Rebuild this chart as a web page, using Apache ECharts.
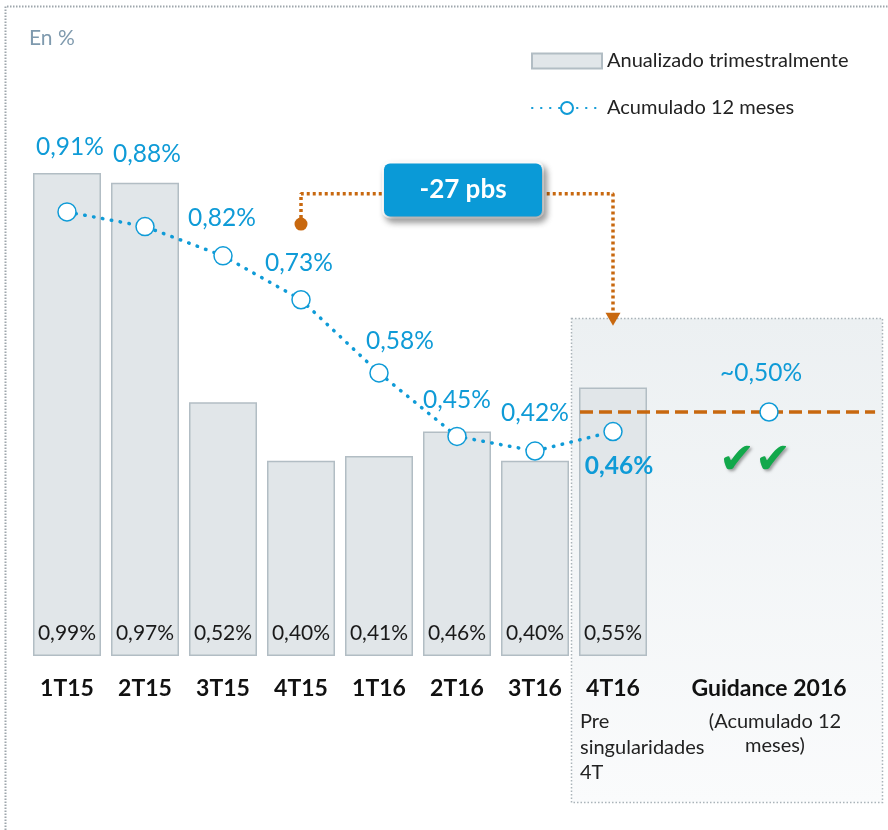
<!DOCTYPE html>
<html>
<head>
<meta charset="utf-8">
<script src="https://cdn.jsdelivr.net/npm/echarts@6/dist/echarts.min.js"></script>
<style>
  html, body { margin: 0; padding: 0; background: #fff; }
  #chart { width: 888px; height: 830px; }
</style>
</head>
<body>
<div id="chart"></div>
<script>
// Categories on the x axis (slot 8 is a spacer before the guidance, slot 10 is right margin)
const categories = ['1T15', '2T15', '3T15', '4T15', '1T16', '2T16', '3T16', '4T16', '', 'Guidance 2016', ''];
// Quarterly annualized cost of risk (%)
const quarterlyAnnualized = [0.99, 0.97, 0.52, 0.40, 0.41, 0.46, 0.40, 0.55];
// Trailing 12-month cost of risk (%)
const trailing12m = [0.91, 0.88, 0.82, 0.73, 0.58, 0.45, 0.42, 0.46];
// 2016 guidance (trailing 12 months, %)
const guidance2016 = 0.50;
// Sub captions under some categories
const subCaptionPre = ['Pre', 'singularidades', '4T'];
const subCaptionGuidance = ['(Acumulado 12', 'meses)'];

const BLUE = '#0f9bd7';
const ORANGE = '#c8680f';
const FONT = 'Lato, "Noto Sans", sans-serif';

const pct = v => v.toFixed(2).replace('.', ',') + '%';

// label offsets (label centre relative to marker centre)
const lineLabelOffsets = [[3, -65], [2, -72], [-1, -38], [-2, -37], [21, -32], [0, -36], [0, -38], [6, 35]];

const lineData = categories.map((c, i) => {
  if (i < trailing12m.length) {
    const item = {
      value: trailing12m[i],
      label: { offset: lineLabelOffsets[i] }
    };
    if (i === trailing12m.length - 1) item.label.fontWeight = 'bold';
    return item;
  }
  if (c === 'Guidance 2016') {
    return {
      value: guidance2016,
      label: { offset: [-8, -39], formatter: p => '~' + pct(p.value) }
    };
  }
  return '-';
});

const fromIdx = 3, toIdx = 7;
const deltaBps = Math.round((trailing12m[toIdx] - trailing12m[fromIdx]) * 100);

const chart = echarts.init(document.getElementById('chart'), null, { renderer: 'canvas' });

const option = {
  animation: false,
  textStyle: { fontFamily: FONT },
  title: {
    text: 'En %', left: 24, top: 23,
    textStyle: { fontSize: 21, color: '#7f9aae', fontWeight: 'normal', fontFamily: FONT }
  },
  legend: {
    orient: 'vertical', left: 531, top: 51, padding: 0,
    itemWidth: 70, itemHeight: 15, itemGap: 27,
    textStyle: { fontSize: 20, color: '#222', fontFamily: FONT },
    data: [
      { name: 'Anualizado trimestralmente', icon: 'rect' },
      { name: 'Acumulado 12 meses' }
    ]
  },
  grid: { left: 28, right: 2, top: 70.4, bottom: 174, containLabel: false },
  xAxis: [
    {
      type: 'category', data: categories, boundaryGap: true,
      axisLine: { show: false }, axisTick: { show: false },
      axisLabel: { interval: 0, margin: 21, fontSize: 23, fontWeight: 'bold', color: '#111', fontFamily: FONT }
    },
    { type: 'value', min: -0.5, max: categories.length - 0.5, show: false }
  ],
  yAxis: { type: 'value', min: 0, max: 1.2, show: false },
  graphic: [
    // outer dotted frame
    {
      type: 'polyline', z: -20, silent: true,
      shape: { points: [[5.5, 830], [5.5, 6.5], [888, 6.5]] },
      style: { stroke: '#9ea6ac', lineWidth: 2, lineDash: [1.5, 1.5], fill: null }
    },
    // highlighted panel behind 4T16 and guidance
    {
      type: 'rect', z: -10, silent: true,
      shape: { x: 571.5, y: 318.5, width: 311, height: 484 },
      style: {
        fill: new echarts.graphic.LinearGradient(0, 0, 0, 1, [
          { offset: 0, color: '#ecf0f2' },
          { offset: 1, color: '#fafbfc' }
        ]),
        stroke: '#aab3b9', lineWidth: 1.5, lineDash: [1.5, 2]
      }
    },
    {
      type: 'text', left: 580, top: 709, z: 5,
      style: { text: subCaptionPre.join('\n'), fontSize: 20, lineHeight: 25.5, fill: '#222', fontFamily: FONT }
    },
    {
      type: 'text', z: 5,
      style: {
        text: subCaptionGuidance.join('\n'), x: 775, y: 710, textAlign: 'center',
        fontSize: 20, lineHeight: 24, fill: '#222', fontFamily: FONT
      }
    },
    {
      type: 'text', z: 5,
      style: {
        text: '\u2714\u2714', x: 755, y: 462, textAlign: 'center', textVerticalAlign: 'middle',
        fontSize: 43, fill: '#12a84b', fontFamily: '"DejaVu Sans"',
        textShadowColor: 'rgba(0,0,0,0.35)', textShadowBlur: 3, textShadowOffsetX: 2, textShadowOffsetY: 2
      }
    }
  ],
  series: [
    {
      name: 'Anualizado trimestralmente', type: 'bar', z: 2,
      barWidth: 68,
      data: quarterlyAnnualized,
      itemStyle: { color: '#e1e6e9', borderColor: '#b2bdc4', borderWidth: 1.5 },
      label: {
        show: true, position: 'insideBottom', distance: 12,
        fontSize: 21, color: '#1a1a1a', fontFamily: FONT,
        formatter: p => pct(p.value)
      }
    },
    {
      // 2016 guidance level
      name: 'guidance', type: 'line', xAxisIndex: 1, z: 3, silent: true,
      symbol: 'none',
      data: [[6.577, guidance2016], [10.36, guidance2016]],
      lineStyle: { color: ORANGE, width: 3.5, type: [13, 6] }
    },
    {
      // bracket from 4T15 to 4T16
      name: 'bracket', type: 'line', xAxisIndex: 1, z: 4, silent: true,
      data: [
        { value: [fromIdx, 0.885], symbol: 'circle', symbolSize: 13 },
        { value: [fromIdx, 0.947], symbol: 'none' },
        { value: [toIdx, 0.947], symbol: 'none' },
        { value: [toIdx, 0.69], symbol: 'triangle', symbolSize: [15, 13], symbolRotate: 180 }
      ],
      showAllSymbol: true,
      itemStyle: { color: ORANGE, borderWidth: 0 },
      lineStyle: { color: ORANGE, width: 3.5, type: [3, 3] }
    },
    {
      name: 'delta', type: 'scatter', xAxisIndex: 1, z: 6, silent: true,
      symbol: 'circle', symbolSize: 2,
      itemStyle: { color: 'transparent', opacity: 1 },
      data: [[5.077, 0.955]],
      label: {
        show: true, position: 'inside', formatter: deltaBps + ' pbs',
        width: 158, height: 53, align: 'center', verticalAlign: 'middle',
        backgroundColor: '#0a9ad7', borderColor: '#ffffff', borderWidth: 2, borderRadius: 6,
        shadowBlur: 6, shadowOffsetX: 3, shadowOffsetY: 4, shadowColor: 'rgba(0,0,0,0.35)',
        fontSize: 26, fontWeight: 'bold', color: '#fff', fontFamily: FONT
      }
    },
    {
      name: 'Acumulado 12 meses', type: 'line', z: 7,
      data: lineData, connectNulls: false,
      symbol: 'circle', symbolSize: 18, showAllSymbol: true,
      itemStyle: { color: '#ffffff', borderColor: BLUE, borderWidth: 1.5 },
      lineStyle: { color: BLUE, width: 3.5, type: [0.5, 8.5], cap: 'round' },
      label: {
        show: true, position: 'inside', align: 'center', verticalAlign: 'middle',
        fontSize: 24.5, color: BLUE, fontFamily: FONT,
        formatter: p => pct(p.value)
      }
    }
  ]
};

chart.setOption(option);
</script>
</body>
</html>
